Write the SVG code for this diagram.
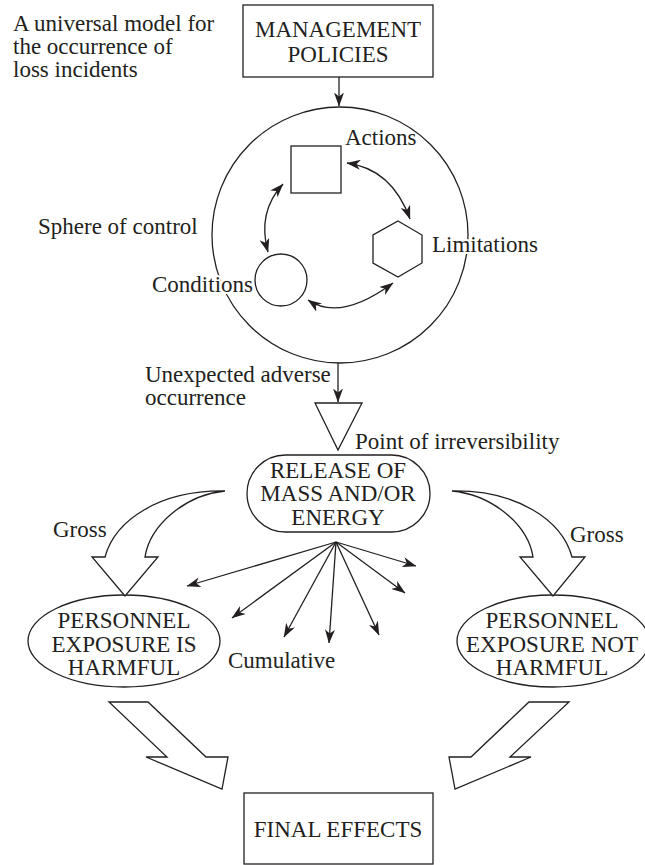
<svg xmlns="http://www.w3.org/2000/svg" width="645" height="865" viewBox="0 0 645 865">
  <style>
    text { font-family: "Liberation Serif", "Times New Roman", serif; font-size: 23px; fill: #231f20; }
    .c { text-anchor: middle; }
    .e { text-anchor: end; }
    .halo { stroke: #fff; stroke-width: 4; paint-order: stroke; stroke-linejoin: round; }
    .shape { fill: #fff; stroke: #231f20; stroke-width: 1.3; }
    .arr { fill: none; stroke: #231f20; stroke-width: 1.3; marker-end: url(#ah); }
    .dbl { fill: none; stroke: #231f20; stroke-width: 1.3; marker-start: url(#ah); marker-end: url(#ah); }
  </style>
  <defs>
    <marker id="ah" viewBox="0 0 14 10" refX="13.5" refY="5" markerWidth="14" markerHeight="10" markerUnits="userSpaceOnUse" orient="auto-start-reverse">
      <path d="M0,0 L14,5 L0,10 L4,5 z" fill="#231f20"/>
    </marker>
  </defs>
  <rect width="645" height="865" fill="#fff"/>

  <!-- caption -->
  <g id="caption">
    <text x="13" y="31">A universal model for</text>
    <text x="13" y="54">the occurrence of</text>
    <text x="13" y="77">loss incidents</text>
  </g>

  <g id="management">
    <rect class="shape" x="243" y="5" width="190" height="72"/>
    <text class="c" x="338" y="37">MANAGEMENT</text>
    <text class="c" x="338" y="62">POLICIES</text>
  </g>

  <g id="sphere">
    <circle class="shape" cx="340" cy="235" r="128"/>
    <text x="38" y="234">Sphere of control</text>
  </g>

  <g id="actions">
    <rect class="shape" x="291" y="146" width="50" height="47"/>
    <text x="345" y="145">Actions</text>
  </g>

  <g id="limitations">
    <polygon class="shape" points="398,221 422,235 422,263 398,277 373,263 373,235"/>
    <text class="halo" x="432" y="252">Limitations</text>
  </g>

  <g id="conditions">
    <circle class="shape" cx="281" cy="280" r="26"/>
    <text class="e halo" x="253" y="292">Conditions</text>
  </g>

  <g id="irreversibility">
    <polygon class="shape" points="315,403 362,403 338,450"/>
    <text x="355" y="449">Point of irreversibility</text>
  </g>

  <g id="release">
    <rect class="shape" x="247" y="455" width="183" height="77" rx="38.5" ry="38.5"/>
    <text class="c" x="338" y="478">RELEASE OF</text>
    <text class="c" x="338" y="501">MASS AND/OR</text>
    <text class="c" x="338" y="525">ENERGY</text>
  </g>

  <g id="harmful">
    <ellipse class="shape" cx="124" cy="641" rx="96" ry="46"/>
    <text class="c" x="124" y="628">PERSONNEL</text>
    <text class="c" x="124" y="652">EXPOSURE IS</text>
    <text class="c" x="124" y="675">HARMFUL</text>
  </g>

  <g id="not-harmful">
    <ellipse class="shape" cx="553" cy="641" rx="96" ry="46"/>
    <text class="c" x="552" y="628">PERSONNEL</text>
    <text class="c" x="552" y="652">EXPOSURE NOT</text>
    <text class="c" x="552" y="675">HARMFUL</text>
  </g>

  <g id="final">
    <rect class="shape" x="244" y="793" width="189" height="71"/>
    <text class="c" x="338" y="837">FINAL EFFECTS</text>
  </g>

  <g id="connectors">
    <line class="arr" x1="339" y1="77" x2="339" y2="106"/>
    <path class="dbl" d="M347,163 Q392,169 410,219"/>
    <path class="dbl" d="M283,184 Q257,212 268,252"/>
    <path class="dbl" d="M308,300 Q340,322 393,283"/>
    <line class="arr" x1="338" y1="363" x2="338" y2="402"/>
    <text x="145" y="382">Unexpected adverse</text>
    <text x="145" y="405">occurrence</text>

    <!-- gross release, left branch -->
    <path class="shape" d="M225,491 C160,490 115,520 105,557 L92,557 L125,596 L158,557 L145,557 C150,525 185,495 225,491 Z"/>
    <text x="53" y="537">Gross</text>
    <!-- gross release, right branch -->
    <path class="shape" d="M452,491 C517,490 562,520 572,557 L585,557 L553,596 L520,557 L533,557 C528,525 493,495 452,491 Z"/>
    <text x="570" y="542">Gross</text>

    <!-- cumulative release fan -->
    <line class="arr" x1="336" y1="542" x2="187" y2="586"/>
    <line class="arr" x1="336" y1="542" x2="232" y2="618"/>
    <line class="arr" x1="336" y1="542" x2="284" y2="637"/>
    <line class="arr" x1="336" y1="542" x2="329" y2="643"/>
    <line class="arr" x1="336" y1="542" x2="379" y2="635"/>
    <line class="arr" x1="336" y1="542" x2="405" y2="593"/>
    <line class="arr" x1="336" y1="542" x2="416" y2="566"/>
    <text x="228" y="668">Cumulative</text>

    <!-- block arrows into final effects -->
    <polygon class="shape" points="109,702 148,702 206,757 228,757 222,789 146,757 167,757"/>
    <polygon class="shape" points="529,702 569,702 510,757 531,757 455,789 449,757 471,757"/>
  </g>
</svg>
